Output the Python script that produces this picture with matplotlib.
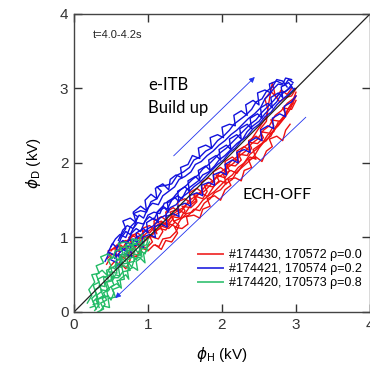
import matplotlib
matplotlib.use('Agg')
import matplotlib.pyplot as plt

# red: #174430, 170572 rho=0.0
red_traces = [
    [(0.45,0.72),(0.52,0.78),(0.58,0.74),(0.55,0.86),(0.63,0.9),(0.7,0.84),(0.78,0.92),(0.74,1.0),(0.82,1.04),(0.9,0.98),
     (0.98,1.06),(1.05,1.12),(1.12,1.05),(1.08,1.18),(1.18,1.22),(1.26,1.16),(1.34,1.25),(1.3,1.34),(1.4,1.38),(1.5,1.32),
     (1.58,1.44),(1.66,1.5),(1.62,1.58),(1.72,1.6),(1.8,1.55),(1.9,1.7),(1.98,1.76),(2.06,1.72),(2.02,1.85),(2.12,1.9),
     (2.2,1.86),(2.3,2.0),(2.38,2.08),(2.46,2.05),(2.42,2.18),(2.52,2.25),(2.6,2.3),(2.68,2.42),(2.76,2.5),(2.84,2.6),
     (2.92,2.72),(3.0,2.9)],
    [(0.6,0.78),(0.68,0.72),(0.76,0.8),(0.85,0.76),(0.92,0.86),(1.0,0.82),(1.08,0.9),(1.15,0.88),(1.2,0.98),(1.3,1.0),
     (1.38,1.08),(1.42,1.16),(1.35,1.22),(1.45,1.26),(1.55,1.3),(1.62,1.38),(1.7,1.36),(1.76,1.46),(1.84,1.52),(1.9,1.6),
     (1.98,1.64),(2.05,1.72),(2.14,1.78),(2.2,1.88),(2.28,1.95),(2.36,2.02),(2.44,2.1),(2.5,2.2),(2.58,2.3),(2.66,2.36),
     (2.72,2.48),(2.8,2.56),(2.88,2.7),(2.95,2.82),(3.0,2.95)],
    [(0.5,0.82),(0.58,0.9),(0.66,0.86),(0.72,0.96),(0.8,1.02),(0.88,0.98),(0.95,1.1),(1.02,1.06),(1.1,1.15),(1.18,1.2),
     (1.26,1.18),(1.32,1.3),(1.4,1.36),(1.48,1.4),(1.56,1.5),(1.64,1.55),(1.72,1.62),(1.8,1.72),(1.88,1.76),(1.96,1.86),
     (2.04,1.92),(2.12,2.02),(2.2,2.08),(2.28,2.2),(2.36,2.26),(2.44,2.38),(2.52,2.5),(2.6,2.62),(2.64,2.85),(2.68,3.08),
     (2.72,2.9),(2.78,2.82),(2.86,2.88),(2.94,2.9),(3.0,3.0)],
    [(0.7,0.9),(0.78,0.82),(0.86,0.9),(0.94,0.94),(1.02,1.0),(1.1,1.08),(1.16,1.12),(1.24,1.1),(1.3,1.18),(1.38,1.14),
     (1.44,1.24),(1.52,1.32),(1.6,1.34),(1.68,1.42),(1.74,1.5),(1.82,1.56),(1.9,1.62),(1.98,1.7),(2.06,1.78),(2.14,1.84),
     (2.22,1.94),(2.3,2.0),(2.38,2.12),(2.46,2.18),(2.54,2.26),(2.62,2.38),(2.7,2.42),(2.76,2.55),(2.84,2.6),(2.9,2.74),
     (2.96,2.8)],
    [(0.48,0.6),(0.55,0.68),(0.6,0.64),(0.66,0.74),(0.74,0.8),(0.82,0.88),(0.88,0.94),(0.96,1.0),(1.04,1.02),(1.12,1.1),
     (1.2,1.16),(1.28,1.24),(1.36,1.3),(1.44,1.34),(1.52,1.44),(1.6,1.48),(1.68,1.58),(1.76,1.62),(1.84,1.7),(1.92,1.8),
     (2.0,1.84),(2.08,1.94),(2.16,2.0),(2.24,2.1),(2.32,2.16),(2.4,2.26),(2.48,2.32),(2.56,2.44),(2.64,2.5),(2.72,2.64),
     (2.8,2.7),(2.88,2.8),(2.96,2.86)],
    [(0.62,0.66),(0.7,0.58),(0.76,0.7),(0.72,0.78),(0.84,0.74),(0.92,0.8),(0.88,0.9),(0.98,0.86),(1.06,0.94),(1.02,1.02),
     (1.14,0.98),(1.2,1.08),(1.16,1.16),(1.28,1.12),(1.36,1.2),(1.32,1.28),(1.44,1.26),(1.5,1.36),(1.46,1.42),(1.58,1.4),
     (1.66,1.48),(1.62,1.56),(1.74,1.52),(1.8,1.62),(1.76,1.7),(1.88,1.68),(1.96,1.76),(1.92,1.84),(2.04,1.8),(2.1,1.9),
     (2.06,1.98),(2.18,1.96),(2.26,2.04),(2.22,2.12),(2.34,2.1),(2.4,2.2),(2.36,2.28),(2.48,2.26),(2.56,2.34),(2.52,2.42),
     (2.64,2.4),(2.7,2.5),(2.66,2.58),(2.78,2.56),(2.86,2.66),(2.82,2.74),(2.94,2.72),(3.0,2.84)],
    [(1.1,0.9),(1.18,0.84),(1.24,0.96),(1.32,0.94),(1.4,1.06),(1.36,1.14),(1.46,1.12),(1.54,1.18),(1.52,1.28),(1.62,1.3),
     (1.7,1.26),(1.74,1.38),(1.84,1.42),(1.8,1.52),(1.9,1.56),(1.98,1.5),(2.04,1.64),(2.12,1.7),(2.08,1.78),(2.18,1.8),
     (2.26,1.76),(2.3,1.9),(2.4,1.94),(2.36,2.04),(2.46,2.08),(2.54,2.02),(2.6,2.16),(2.68,2.22),(2.64,2.32),(2.74,2.36),
     (2.82,2.3),(2.86,2.44),(2.92,2.52)],
    [(0.44,0.64),(0.5,0.74),(0.46,0.82),(0.56,0.86),(0.62,0.8),(0.6,0.92),(0.7,0.96),(0.78,0.9),(0.76,1.02),(0.86,1.06),
     (0.94,1.0),(0.92,1.12),(1.02,1.16),(1.1,1.1),(1.08,1.22),(1.18,1.28),(1.26,1.22),(1.24,1.34),(1.34,1.4),(1.42,1.34),
     (1.4,1.48),(1.5,1.52),(1.58,1.46),(1.56,1.6),(1.66,1.66),(1.74,1.6),(1.72,1.74),(1.82,1.8),(1.9,1.74),(1.88,1.88),
     (1.98,1.94),(2.06,1.88),(2.04,2.02),(2.14,2.08),(2.22,2.02),(2.2,2.16),(2.3,2.22),(2.38,2.16),(2.36,2.3),(2.46,2.36),
     (2.54,2.3),(2.52,2.46),(2.6,2.56),(2.62,2.72),(2.58,2.86),(2.66,2.96),(2.74,2.88),(2.8,2.98),(2.88,2.92),(2.94,3.0)],
]

# blue: #174421, 170574 rho=0.2
blue_traces = [
    [(0.42,0.68),(0.48,0.8),(0.54,0.76),(0.6,0.9),(0.66,0.96),(0.72,0.92),(0.78,1.06),(0.84,1.12),(0.9,1.08),(0.96,1.22),
     (1.02,1.28),(1.08,1.24),(1.14,1.36),(1.2,1.42),(1.26,1.38),(1.32,1.5),(1.4,1.56),(1.46,1.52),(1.52,1.64),(1.6,1.7),
     (1.68,1.76),(1.74,1.84),(1.82,1.88),(1.9,1.96),(1.96,2.04),(2.04,2.1),(2.12,2.18),(2.2,2.26),(2.28,2.32),(2.34,2.42),
     (2.42,2.5),(2.5,2.56),(2.58,2.66),(2.66,2.74),(2.74,2.82),(2.8,2.92),(2.88,2.98),(2.95,3.06)],
    [(0.5,0.88),(0.56,0.98),(0.62,1.04),(0.7,1.0),(0.76,1.14),(0.82,1.2),(0.88,1.3),(0.94,1.26),(1.0,1.4),(1.06,1.46),
     (1.14,1.44),(1.2,1.56),(1.28,1.62),(1.36,1.68),(1.42,1.78),(1.5,1.82),(1.58,1.88),(1.64,1.98),(1.72,2.02),(1.8,2.1),
     (1.88,2.16),(1.96,2.24),(2.04,2.3),(2.12,2.38),(2.2,2.44),(2.28,2.52),(2.36,2.6),(2.44,2.66),(2.52,2.74),(2.58,2.86),
     (2.64,2.92),(2.7,3.0),(2.76,3.06),(2.84,3.04),(2.9,3.12),(2.96,3.08)],
    [(0.55,0.72),(0.62,0.8),(0.7,0.86),(0.78,0.92),(0.84,1.0),(0.92,1.04),(1.0,1.12),(1.08,1.16),(1.16,1.26),(1.24,1.3),
     (1.3,1.4),(1.38,1.44),(1.46,1.54),(1.54,1.6),(1.62,1.68),(1.7,1.74),(1.78,1.82),(1.86,1.9),(1.94,1.98),(2.02,2.04),
     (2.1,2.14),(2.18,2.2),(2.26,2.3),(2.34,2.36),(2.42,2.46),(2.5,2.52),(2.58,2.62),(2.66,2.68),(2.74,2.78),(2.82,2.86),
     (2.9,2.92),(2.98,3.0)],
    [(0.45,0.78),(0.52,0.92),(0.58,0.86),(0.64,1.0),(0.7,1.08),(0.76,1.04),(0.82,1.16),(0.86,1.28),(0.8,1.32),(0.9,1.36),
     (0.98,1.34),(1.04,1.48),(1.12,1.52),(1.18,1.62),(1.12,1.68),(1.24,1.7),(1.32,1.72),(1.4,1.84),(1.48,1.88),(1.56,1.94),
     (1.62,2.04),(1.7,2.08),(1.78,2.16),(1.86,2.2),(1.94,2.3),(2.02,2.36),(2.1,2.44),(2.16,2.52),(2.24,2.58),(2.32,2.64),
     (2.4,2.72),(2.46,2.82),(2.54,2.86),(2.6,2.96),(2.68,3.02),(2.74,3.12),(2.82,3.1),(2.88,3.02)],
    [(0.6,0.96),(0.66,1.1),(0.72,1.16),(0.8,1.12),(0.86,1.2),(0.94,1.18),(1.0,1.3),(1.08,1.34),(1.16,1.32),(1.22,1.46),
     (1.3,1.48),(1.38,1.58),(1.44,1.64),(1.52,1.7),(1.6,1.78),(1.68,1.84),(1.74,1.92),(1.82,1.98),(1.9,2.06),(1.98,2.14),
     (2.06,2.2),(2.14,2.28),(2.22,2.36),(2.3,2.44),(2.38,2.52),(2.46,2.58),(2.54,2.68),(2.62,2.76),(2.7,2.84),(2.78,2.94),
     (2.86,2.96),(2.94,3.02)],
    [(0.5,0.7),(0.58,0.66),(0.56,0.8),(0.64,0.86),(0.72,0.8),(0.7,0.94),(0.8,0.98),(0.86,0.92),(0.84,1.06),(0.94,1.12),
     (1.0,1.06),(0.98,1.2),(1.08,1.26),(1.14,1.2),(1.12,1.34),(1.22,1.4),(1.28,1.34),(1.26,1.48),(1.36,1.54),(1.42,1.48),
     (1.4,1.62),(1.5,1.68),(1.56,1.62),(1.54,1.76),(1.64,1.82),(1.7,1.76),(1.68,1.9),(1.78,1.96),(1.84,1.9),(1.82,2.04),
     (1.92,2.1),(1.98,2.04),(1.96,2.18),(2.06,2.24),(2.12,2.18),(2.1,2.32),(2.2,2.38),(2.26,2.32),(2.24,2.46),(2.34,2.52),
     (2.4,2.46),(2.38,2.6),(2.48,2.66),(2.54,2.6),(2.52,2.74),(2.62,2.8),(2.68,2.74),(2.66,2.88),(2.76,2.94),(2.82,2.88),
     (2.8,3.02),(2.9,3.08),(2.96,3.0)],
    [(0.62,1.0),(0.7,1.12),(0.66,1.22),(0.76,1.26),(0.84,1.2),(0.8,1.34),(0.9,1.42),(0.98,1.36),(0.96,1.5),(1.04,1.58),
     (1.12,1.52),(1.1,1.66),(1.2,1.72),(1.28,1.64),(1.3,1.78),(1.38,1.84),(1.46,1.8),(1.44,1.94),(1.54,1.98),(1.6,2.1),
     (1.7,2.06),(1.68,2.2),(1.78,2.24),(1.86,2.2),(1.84,2.34),(1.94,2.38),(2.02,2.34),(2.0,2.48),(2.1,2.52),(2.18,2.5),
     (2.16,2.64),(2.26,2.7),(2.34,2.64),(2.32,2.78),(2.42,2.84),(2.5,2.78),(2.48,2.94),(2.58,2.98),(2.66,2.94),(2.64,3.06),
     (2.74,3.1),(2.82,3.06),(2.86,3.14),(2.94,3.12)],
    [(0.56,0.6),(0.64,0.66),(0.6,0.76),(0.7,0.78),(0.78,0.74),(0.76,0.88),(0.86,0.9),(0.94,0.86),(0.92,1.0),(1.02,1.04),
     (1.1,1.0),(1.08,1.14),(1.18,1.18),(1.26,1.14),(1.24,1.28),(1.34,1.32),(1.42,1.28),(1.4,1.42),(1.5,1.46),(1.58,1.42),
     (1.56,1.56),(1.66,1.6),(1.74,1.56),(1.72,1.7),(1.82,1.74),(1.9,1.7),(1.88,1.84),(1.98,1.88),(2.06,1.84),(2.04,1.98),
     (2.14,2.04),(2.22,2.0),(2.2,2.14),(2.3,2.18),(2.38,2.14),(2.36,2.28),(2.46,2.34),(2.54,2.3),(2.52,2.44),(2.62,2.5),
     (2.7,2.46),(2.68,2.6),(2.78,2.66),(2.86,2.62),(2.84,2.76),(2.94,2.82),(3.0,2.9)],
]

# green: #174420, 170573 rho=0.8
green_traces = [
    [(0.3,0.04),(0.26,0.14),(0.32,0.2),(0.28,0.3),(0.36,0.34),(0.32,0.44),(0.4,0.48),(0.46,0.44),(0.44,0.56),(0.52,0.6),
     (0.58,0.56),(0.56,0.68),(0.64,0.72),(0.7,0.68),(0.68,0.8),(0.76,0.84),(0.82,0.8),(0.8,0.9),(0.88,0.94),(0.94,0.9),
     (0.96,1.0)],
    [(0.36,0.02),(0.42,0.1),(0.38,0.18),(0.46,0.22),(0.5,0.16),(0.54,0.26),(0.5,0.34),(0.58,0.38),(0.64,0.32),(0.62,0.44),
     (0.7,0.5),(0.74,0.44),(0.72,0.56),(0.8,0.6),(0.86,0.56),(0.84,0.68),(0.9,0.72),(0.96,0.66),(0.94,0.78),(1.0,0.84)],
    [(0.22,0.06),(0.28,0.08),(0.24,0.18),(0.3,0.24),(0.26,0.36),(0.34,0.4),(0.3,0.5),(0.38,0.56),(0.44,0.5),(0.5,0.62),
     (0.46,0.7),(0.54,0.74),(0.6,0.7),(0.66,0.8),(0.62,0.86),(0.7,0.88),(0.76,0.84),(0.82,0.92),(0.88,0.88),(0.92,0.96)],
    [(0.32,0.0),(0.4,0.04),(0.36,0.12),(0.44,0.16),(0.4,0.26),(0.48,0.3),(0.44,0.4),(0.52,0.42),(0.56,0.5),(0.62,0.48),
     (0.6,0.6),(0.68,0.62),(0.74,0.58),(0.72,0.7),(0.8,0.74),(0.84,0.7),(0.9,0.82),(0.96,0.78),(1.0,0.9)],
    [(0.26,0.1),(0.34,0.12),(0.3,0.22),(0.38,0.28),(0.34,0.36),(0.42,0.34),(0.4,0.46),(0.48,0.5),(0.54,0.46),(0.5,0.58),
     (0.58,0.64),(0.64,0.6),(0.62,0.72),(0.7,0.76),(0.76,0.72),(0.74,0.82),(0.82,0.86),(0.86,0.8),(0.92,0.86)],
    [(0.34,0.06),(0.3,0.16),(0.4,0.2),(0.36,0.3),(0.46,0.28),(0.42,0.4),(0.52,0.44),(0.48,0.54),(0.58,0.52),(0.56,0.64),
     (0.66,0.66),(0.62,0.76),(0.72,0.78),(0.7,0.9),(0.8,0.88),(0.78,0.98),(0.88,0.96),(0.92,1.04)],
    [(0.4,0.08),(0.48,0.06),(0.46,0.18),(0.56,0.2),(0.52,0.3),(0.62,0.34),(0.58,0.42),(0.68,0.44),(0.66,0.54),(0.76,0.56),
     (0.72,0.66),(0.82,0.68),(0.8,0.78),(0.9,0.76),(0.88,0.88),(0.98,0.9),(1.0,0.98)],
    [(0.18,0.12),(0.24,0.22),(0.2,0.3),(0.28,0.4),(0.24,0.5),(0.34,0.52),(0.3,0.62),(0.4,0.66),(0.36,0.74),(0.46,0.78),
     (0.52,0.72),(0.56,0.82),(0.64,0.84),(0.6,0.92),(0.7,0.94),(0.78,0.9),(0.84,0.98)],
    [(0.28,0.02),(0.34,0.1),(0.3,0.16),(0.4,0.22),(0.46,0.2),(0.44,0.3),(0.54,0.36),(0.5,0.46),(0.6,0.46),(0.66,0.54),
     (0.64,0.64),(0.74,0.66),(0.78,0.6),(0.82,0.72),(0.92,0.74),(0.9,0.84),(0.98,0.86),(1.02,0.94)],
]

labels = ['#174430, 170572 ρ=0.0', '#174421, 170574 ρ=0.2', '#174420, 170573 ρ=0.8']
colors = ['#ee1111', '#1111dd', '#22bb66']
ticks = [0, 1, 2, 3, 4]

plt.rcParams['font.family'] = ['Liberation Sans', 'DejaVu Sans']

fig = plt.figure(figsize=(3.7, 3.69), dpi=100)
ax = fig.add_axes([0.2, 0.1545, 0.8, 0.8076])

for traces, c, lab in zip([red_traces, blue_traces, green_traces], colors, labels):
    for i, tr in enumerate(traces):
        xs, ys = zip(*tr)
        ax.plot(xs, ys, color=c, lw=1.0, label=lab if i == 0 else None)

ax.plot([0, 4], [0, 4], color='#222222', lw=0.9)

# arrows
ax.annotate('', xy=(2.47, 3.18), xytext=(1.32, 2.07),
            arrowprops=dict(arrowstyle='-|>', color='#2233ee', lw=0.6, mutation_scale=8))
ax.annotate('', xy=(0.53, 0.16), xytext=(3.16, 2.64),
            arrowprops=dict(arrowstyle='-|>', color='#2233ee', lw=0.6, mutation_scale=8))

ax.text(0.064, 0.93, 't=4.0-4.2s', transform=ax.transAxes, fontsize=8, va='center', color='#222222')
ax.text(1.0, 3.05, 'e-ITB', fontsize=12, va='center', family='Lato')
ax.text(1.0, 2.74, 'Build up', fontsize=12, va='center', family='Lato')
ax.text(2.28, 1.57, 'ECH-OFF', fontsize=11.5, va='center', family='Lato')

ax.set_xlim(0, 4)
ax.set_ylim(0, 4)
ax.set_xticks(ticks)
ax.set_yticks(ticks)
ax.tick_params(direction='in', length=6, width=1, labelsize=11, colors='#333333',
               top=True, right=True, pad=4)
for s in ax.spines.values():
    s.set_color('#444444')
    s.set_linewidth(1)

ax.set_xlabel(r'$\phi_{\rm H}$ (kV)', fontsize=11, labelpad=10)
ax.set_ylabel(r'$\phi_{\rm D}$ (kV)', fontsize=11, labelpad=12)

leg = ax.legend(loc='upper left', bbox_to_anchor=(0.39, 0.24), frameon=False, fontsize=9,
                handlelength=2.0, handletextpad=0.5, labelspacing=0.15, borderpad=0.2)
for h in leg.get_lines():
    h.set_linewidth(1.4)
    h.set_alpha(0.8)

fig.savefig('out.png', dpi=100)
